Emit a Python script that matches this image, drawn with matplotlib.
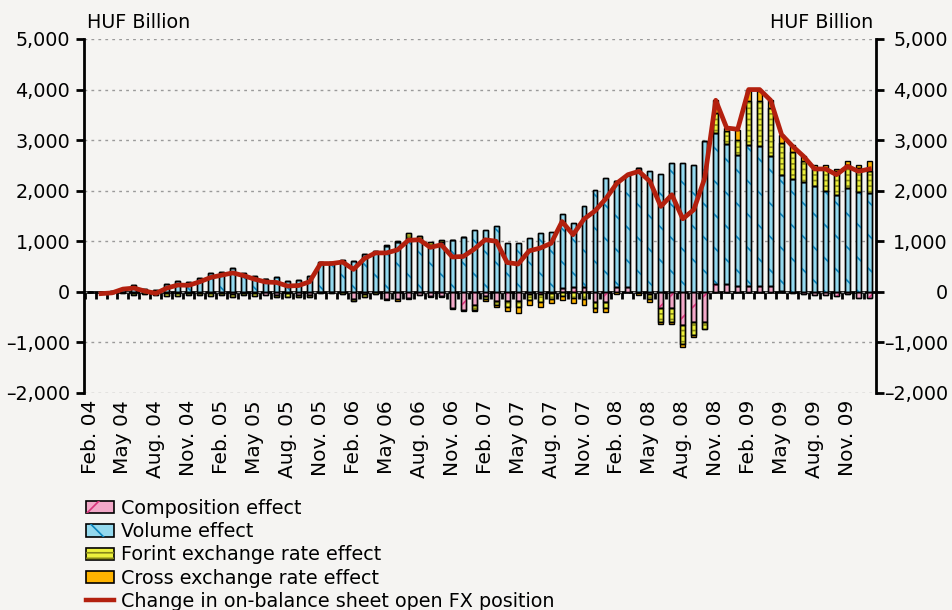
import numpy as np
import matplotlib
matplotlib.use("Agg")
import matplotlib.pyplot as plt
import matplotlib.transforms as mtrans
from matplotlib.patches import Patch
from matplotlib.lines import Line2D
from matplotlib.legend_handler import HandlerTuple
from matplotlib.ticker import FuncFormatter

# ---------------- data (HUF billion), monthly Feb 2004 - Jan 2010 ----------------
years = ["04", "05", "06", "07", "08", "09"]
tick_labels = []
for y in years:
    tick_labels += [f"Feb. {y}", f"May {y}", f"Aug. {y}", f"Nov. {y}"]

composition = [0, 0, 0, 0, -15, 0, -20, -30, -25, -20, -25, -30, -20, -40, -20, -30,
               -56, -60, -30, -60, -70, 0, 0, 0, -150, -50, -10, -140, -150, -125, -70, -90,
               -80, -310, -350, -260, -90, -190, -190, -190, -40, -40, -18, 70, 100, 100, -200, -200,
               100, 100, -19, -40, -323, -323, -653, -600, -587, 158, 158, 106, 106, 106, 106, 20,
               -26, -52, -60, -60, -80, -52, -120, -120]
volume = [0, 0, 20, 60, 130, 55, 40, 155, 220, 190, 265, 370, 390, 470, 375, 323,
          251, 287, 218, 238, 307, 587, 587, 624, 617, 752, 805, 898, 977, 1063, 1049, 930,
          977, 1030, 1082, 1214, 1214, 1300, 964, 964, 1069, 1162, 1188, 1474, 1260, 1596, 2006, 2250,
          2085, 2217, 2442, 2383, 2330, 2548, 2548, 2515, 2977, 2984, 2772, 2607, 2805, 2785, 2574, 2297,
          2237, 2165, 2086, 1987, 1907, 2053, 1973, 1954]
forint = [0, -30, -30, -20, -40, -40, -50, -50, -60, -40, -40, -55, -40, -55, -35, -43,
          0, -40, -70, -50, -37, -27, -27, -34, -22, -42, -25, 30, 30, 92, 50, 53,
          50, 0, 0, -90, -50, -70, -100, -110, -130, -170, -120, -90, -130, -150, -120, -115,
          0, 0, 0, -100, -264, -272, -376, -244, -152, 396, 245, 297, 858, 878, 957, 627,
          522, 416, 363, 462, 476, 462, 476, 429]
cross = [0, 0, 0, 0, 0, 0, 0, 0, 0, 0, 0, 0, 0, 0, 0, 0,
         0, 0, 0, 0, 0, 0, 0, 0, 0, 0, 0, -18, -27, -10, 0, -13,
         -17, -30, -30, -20, -44, -40, -80, -110, -90, -90, -90, -64, -100, -106, -86, -90,
         -35, 0, -40, -58, -53, -33, -66, -46, 0, 250, 65, 198, 231, 198, 151, 165,
         152, 99, 66, 66, 52, 79, 66, 198]
fx_position = [np.nan, -35, -20, 55, 75, 15, -30, 75, 135, 130, 200, 285, 330, 375, 320, 250,
               195, 185, 115, 125, 200, 560, 560, 590, 445, 660, 770, 770, 830, 1020, 1030, 880,
               930, 690, 700, 845, 1030, 1000, 580, 550, 810, 865, 960, 1390, 1130, 1440, 1600, 1845,
               2150, 2317, 2383, 2185, 1690, 1920, 1445, 1624, 2250, 3788, 3240, 3215, 4000, 4000, 3788, 3109,
               2880, 2680, 2430, 2430, 2317, 2482, 2383, 2429]

series_names = ["Composition effect", "Volume effect", "Forint exchange rate effect",
                "Cross exchange rate effect"]
line_name = "Change in on-balance sheet open FX position"

# ---------------- style ----------------
BG = "#f5f4f2"
plt.rcParams["font.family"] = ["DejaVu Sans"]
plt.rcParams["hatch.linewidth"] = 1.2
FS = 13.8

styles = [
    dict(fc="#f2a8c8", hatch="/", hc="#d8357c"),
    dict(fc="#94d9ee", hatch="\\", hc="#0b84bd"),
    dict(fc="#ecf03c", hatch="---", hc="#86861a"),
    dict(fc="#ffb400", hatch=None, hc=None),
]

fig = plt.figure(figsize=(9.52, 6.10), dpi=100, facecolor=BG)
ax = fig.add_axes([84 / 952, 1 - 393 / 610, (876 - 84) / 952, (393 - 39) / 610])
ax.set_facecolor(BG)

n = len(volume)
x = np.arange(n)
width = 0.45
pos_base = np.zeros(n)
neg_base = np.zeros(n)
for vals, st in zip([composition, volume, forint, cross], styles):
    v = np.array(vals, dtype=float)
    bottom = np.where(v >= 0, pos_base, neg_base)
    ax.bar(x, v, width, bottom=bottom, color=st["fc"], edgecolor="black",
           linewidth=1.0, zorder=2)
    if st["hatch"]:
        ax.bar(x, v, width, bottom=bottom, color="none", edgecolor=st["hc"],
               hatch=st["hatch"], linewidth=0, zorder=2.1)
        ax.bar(x, v, width, bottom=bottom, color="none", edgecolor="black",
               linewidth=1.0, zorder=2.2)
    pos_base = pos_base + np.where(v >= 0, v, 0)
    neg_base = neg_base + np.where(v < 0, v, 0)

ax.plot(x, fx_position, color="#b3200e", lw=3.4, zorder=5, solid_joinstyle="round")

ax.set_xlim(-0.55, 71.6)
ax.set_ylim(-2000, 5000)
ax.set_yticks(np.arange(-2000, 5001, 1000))
ax.yaxis.set_major_formatter(FuncFormatter(lambda v, p: f"{v:,.0f}".replace("-", "\u2013")))
ax.grid(axis="y", linestyle=(0, (2, 3)), color="#9a9a9a", lw=1.0, zorder=0)
ax.set_axisbelow(True)

for s in ["top", "bottom"]:
    ax.spines[s].set_visible(False)
for s in ["left", "right"]:
    ax.spines[s].set_linewidth(2)
ax.tick_params(axis="y", which="both", left=True, right=True, labelleft=True,
               labelright=True, direction="out", length=6, width=2, labelsize=FS, pad=4)
# right-hand labels, right-aligned near the figure edge
offset = mtrans.ScaledTranslation((947 - 876 - 13) / 100, 0, fig.dpi_scale_trans)
for t in ax.yaxis.get_major_ticks():
    t.label2.set_horizontalalignment("right")
    t.label2.set_transform(t.label2.get_transform() + offset)

ax.set_xticks(np.arange(0, n, 3), labels=tick_labels[: len(np.arange(0, n, 3))],
              rotation=90)
ax.tick_params(axis="x", length=0, labelsize=14.5, pad=5)

# category axis at zero with monthly tick marks
sec = ax.secondary_xaxis(2 / 7)
sec.set_xticks(np.arange(-0.5, n - 0.5, 1))
sec.tick_params(axis="x", direction="out", length=5, width=2, labelbottom=False,
                labeltop=False)
for sp in sec.spines.values():
    sp.set_linewidth(2)

fig.text(87 / 952, 1 - 22 / 610, "HUF Billion", ha="left", va="center", fontsize=FS)
fig.text(873 / 952, 1 - 22 / 610, "HUF Billion", ha="right", va="center", fontsize=FS)

handles = []
for st in styles:
    base = Patch(facecolor=st["fc"], edgecolor="black", linewidth=1.2)
    if st["hatch"]:
        over = Patch(facecolor="none", edgecolor=st["hc"], hatch=st["hatch"], linewidth=0)
        handles.append((base, over))
    else:
        handles.append(base)
handles.append(Line2D([], [], color="#b3200e", lw=3.2))
fig.legend(handles, series_names + [line_name], loc="upper left",
           bbox_to_anchor=(86 / 952, 1 - 499 / 610), frameon=False, fontsize=FS,
           handler_map={tuple: HandlerTuple(ndivide=1, pad=0)},
           handlelength=1.45, handleheight=0.6, handletextpad=0.4, labelspacing=0.22,
           borderpad=0, borderaxespad=0)

fig.savefig("out.png", dpi=100, facecolor=BG)
